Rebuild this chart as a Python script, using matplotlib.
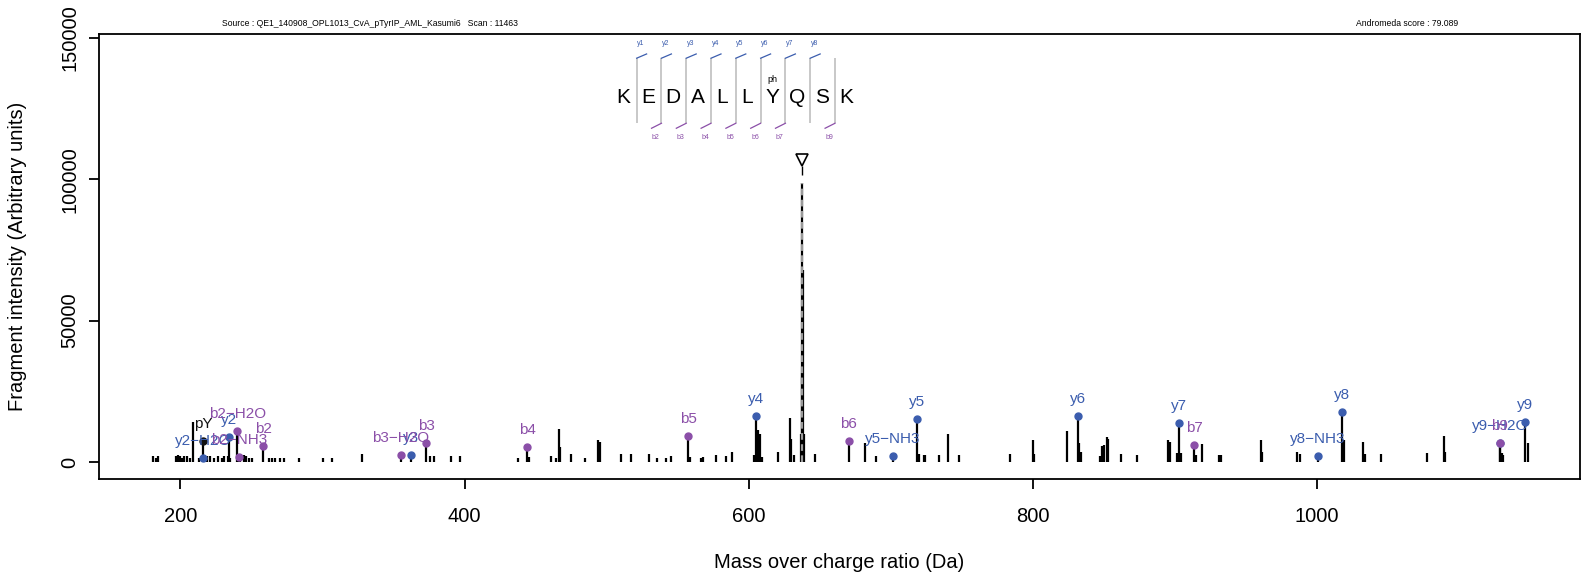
import matplotlib
matplotlib.use("Agg")
import matplotlib.pyplot as plt

plt.rcParams['font.family'] = ['Liberation Sans', 'DejaVu Sans']

# ---- spectrum data (m/z, intensity) ----
peak_mz = [180.7, 183.0, 184.0, 197.1, 198.0, 199.0, 199.9, 201.1, 202.2, 204.6,
           206.9, 208.8, 212.8, 218.7, 221.0, 223.4, 226.2, 229.3, 230.9, 233.3,
           234.7, 242.2, 244.5, 246.4, 248.0, 250.4, 262.1, 264.5, 266.8, 269.9,
           273.2, 283.2, 300.4, 306.8, 327.9, 376.0, 378.8, 390.3, 396.5,
           437.8, 445.3, 460.5, 464.0, 466.4, 467.1, 474.6, 484.5, 493.9, 495.2,
           509.8, 517.4, 529.8, 535.7, 541.5, 545.5, 558.6, 566.7, 567.6, 576.8,
           583.8, 588.5, 603.7, 606.5, 608.0, 609.0, 620.6, 629.1, 630.0, 631.9,
           636.6, 637.3, 638.3, 638.9, 646.5,
           681.7, 689.4, 719.5, 723.0, 724.0, 734.1, 740.0, 747.7, 783.9, 800.3,
           801.0, 824.0, 832.7, 833.8, 847.4, 848.6, 849.8, 852.1, 853.1, 862.0,
           873.1, 894.9, 896.1, 901.5, 904.3, 914.8, 919.1, 931.2, 932.4,
           960.2, 961.1, 986.0, 987.6, 1018.9, 1032.5, 1033.4, 1045.2, 1077.4,
           1089.4, 1090.3, 1130.1, 1131.1, 1148.5]
peak_int = [2000, 1500, 2000, 2000, 2600, 2000, 2300, 1500, 2000, 2000,
            1500, 14150, 1500, 2300, 2000, 1500, 2000, 1500, 2300, 2000,
            1500, 2000, 2600, 2000, 1500, 1500, 1500, 1500, 1500, 1500,
            1500, 1500, 1500, 1500, 2950, 2000, 2000, 2000, 2000,
            1550, 1770, 2000, 1550, 11800, 5300, 2700, 1550, 7900, 7080,
            2700, 2700, 2700, 1550, 1550, 2000, 1770, 1550, 1770, 2370,
            2000, 3540, 2370, 11200, 10000, 1770, 3540, 15700, 8280, 2370,
            10000, 31500, 67900, 10000, 2700,
            6700, 2000, 2950, 2370, 2370, 2370, 9800, 2370, 2950, 7680,
            2950, 10970, 6700, 3540, 2000, 5550, 5900, 8850, 8280, 2950,
            2370, 7900, 7080, 3200, 3200, 2370, 6260, 2370, 2370,
            7680, 3540, 3540, 2950, 7680, 7080, 2950, 2950, 3200,
            9080, 3540, 3200, 2370, 6700]

# ---- annotated fragment ions ----
ion_label = ["y2\u2212H2O", "pY", "y2", "b2\u2212H2O", "b2\u2212NH3", "b2", "b3\u2212H2O",
             "y3", "b3", "b4", "b5", "y4", "b6", "y5\u2212NH3", "y5", "y6", "y7", "b7",
             "y8\u2212NH3", "y8", "y9\u2212H2O", "b9", "y9"]
ion_mz = [216.14, 216.04, 234.15, 240.13, 241.12, 258.14, 355.16,
          362.20, 373.17, 444.21, 557.29, 605.23, 670.38, 701.30, 718.32, 831.40, 902.44, 913.41,
          1000.45, 1017.47, 1128.50, 1128.50, 1146.51]
ion_int = [1520, 7400, 8850, 10970, 1770, 5660, 2480,
           2480, 6720, 5300, 9200, 16270, 7430, 2100, 15200, 16270, 13800, 6000,
           2100, 17700, 6700, 6700, 14150]
ion_type = ["y", "imm", "y", "b", "b", "b", "b",
            "y", "b", "b", "b", "y", "b", "y", "y", "y", "y", "b",
            "y", "y", "y", "b", "y"]

precursor_mz = 637.81
precursor_int = 98700

# ---- peptide sequence annotation ----
sequence = ["K", "E", "D", "A", "L", "L", "Y", "Q", "S", "K"]
y_cuts = [1, 2, 3, 4, 5, 6, 7, 8]          # separator index carrying a y mark
b_cuts = [2, 3, 4, 5, 6, 7, 9]             # separator index carrying a b mark
mod_pos = 6                                # "ph" on Y

source_txt = "Source : QE1_140908_OPL1013_CvA_pTyrIP_AML_Kasumi6   Scan : 11463"
score_txt = "Andromeda score : 79.089"

COL = {"y": "#3B5DAE", "b": "#8B4FA8", "imm": "#111111"}
SEP_GREY = "#c8c8c8"

fig = plt.figure(figsize=(15.96, 5.80), dpi=100)
ax = fig.add_axes([99 / 1596, 1 - 479 / 580, (1580 - 99) / 1596, (479 - 34) / 580])

# all peaks as sticks
ax.vlines(peak_mz + ion_mz, 0, peak_int + ion_int, colors="black", linewidth=1.6)
ax.vlines(precursor_mz, 0, precursor_int, colors="black", linewidth=1.6)
ax.vlines(precursor_mz, 0, precursor_int, colors="#9a9a9a", linewidth=1.6,
          linestyles=(0, (3, 2)))

# precursor marker
ax.plot(precursor_mz, precursor_int + 8100, marker="v", mfc="white", mec="black",
        ms=9, mew=1.2, ls="none")
ax.vlines(precursor_mz, precursor_int + 3000, precursor_int + 6000, colors="black", linewidth=1.0)

# ion dots and labels (blue first so purple sits on top where they collide)
order = sorted(range(len(ion_mz)), key=lambda i: {"y": 0, "imm": 1, "b": 2}[ion_type[i]])
for i in order:
    c = COL[ion_type[i]]
    ax.plot(ion_mz[i], ion_int[i], "o", color=c, ms=5, zorder=4)
    ax.annotate(ion_label[i], (ion_mz[i], ion_int[i]), xytext=(0, 12),
                textcoords="offset points", ha="center", va="center",
                color=c, fontsize=11, zorder=5)

# sequence block (data coordinates)
x0, step = 511.7, 17.45
y_mid = 128800
sep_off = 9.4
sep_top, sep_bot = 142840, 119830
for k, aa in enumerate(sequence):
    ax.text(x0 + k * step, y_mid, aa, ha="center", va="center", fontsize=15, color="black")
ax.text(x0 + mod_pos * step, 135300, "ph", ha="center", va="center", fontsize=6.5)
for s in range(1, len(sequence)):
    xs = x0 + (s - 1) * step + sep_off
    ax.plot([xs, xs], [sep_top, sep_bot], color=SEP_GREY, lw=1.4, solid_capstyle="butt")
for n, s in enumerate(y_cuts):
    xs = x0 + (s - 1) * step + sep_off
    ax.plot([xs, xs + 7.0], [sep_top, sep_top + 1500], color=COL["y"], lw=0.9)
    ax.text(xs + 3.0, 147900, "y%d" % (n + 1), ha="center", va="center",
            fontsize=5, color=COL["y"])
for s in b_cuts:
    xs = x0 + (s - 1) * step + sep_off
    ax.plot([xs - 7.0, xs], [sep_bot - 1770, sep_bot], color=COL["b"], lw=0.9)
    ax.text(xs - 4.0, 114900, "b%d" % s, ha="center", va="center",
            fontsize=5, color=COL["b"])

# axes styling (R-like)
ax.set_xlim(142.7, 1185.0)
ax.set_ylim(-6000, 151400)
ax.set_xticks([200, 400, 600, 800, 1000])
ax.set_yticks([0, 50000, 100000, 150000])
ax.set_yticklabels(["0", "50000", "100000", "150000"], rotation=90, va="center")
for sp in ax.spines.values():
    sp.set_linewidth(1.3)
ax.tick_params(direction="out", length=7, width=1.3, labelsize=14.5)
ax.tick_params(axis="x", pad=13.5)
ax.tick_params(axis="y", pad=7)
ax.set_xlabel("Mass over charge ratio (Da)", fontsize=14.5, labelpad=19)
ax.set_ylabel("Fragment intensity (Arbitrary units)", fontsize=14.5, labelpad=24)

fig.text(222 / 1596, 1 - 23 / 580, source_txt, ha="left", va="center", fontsize=6.2)
fig.text(1458 / 1596, 1 - 23 / 580, score_txt, ha="right", va="center", fontsize=6.2)

fig.savefig("out.png", dpi=100)
